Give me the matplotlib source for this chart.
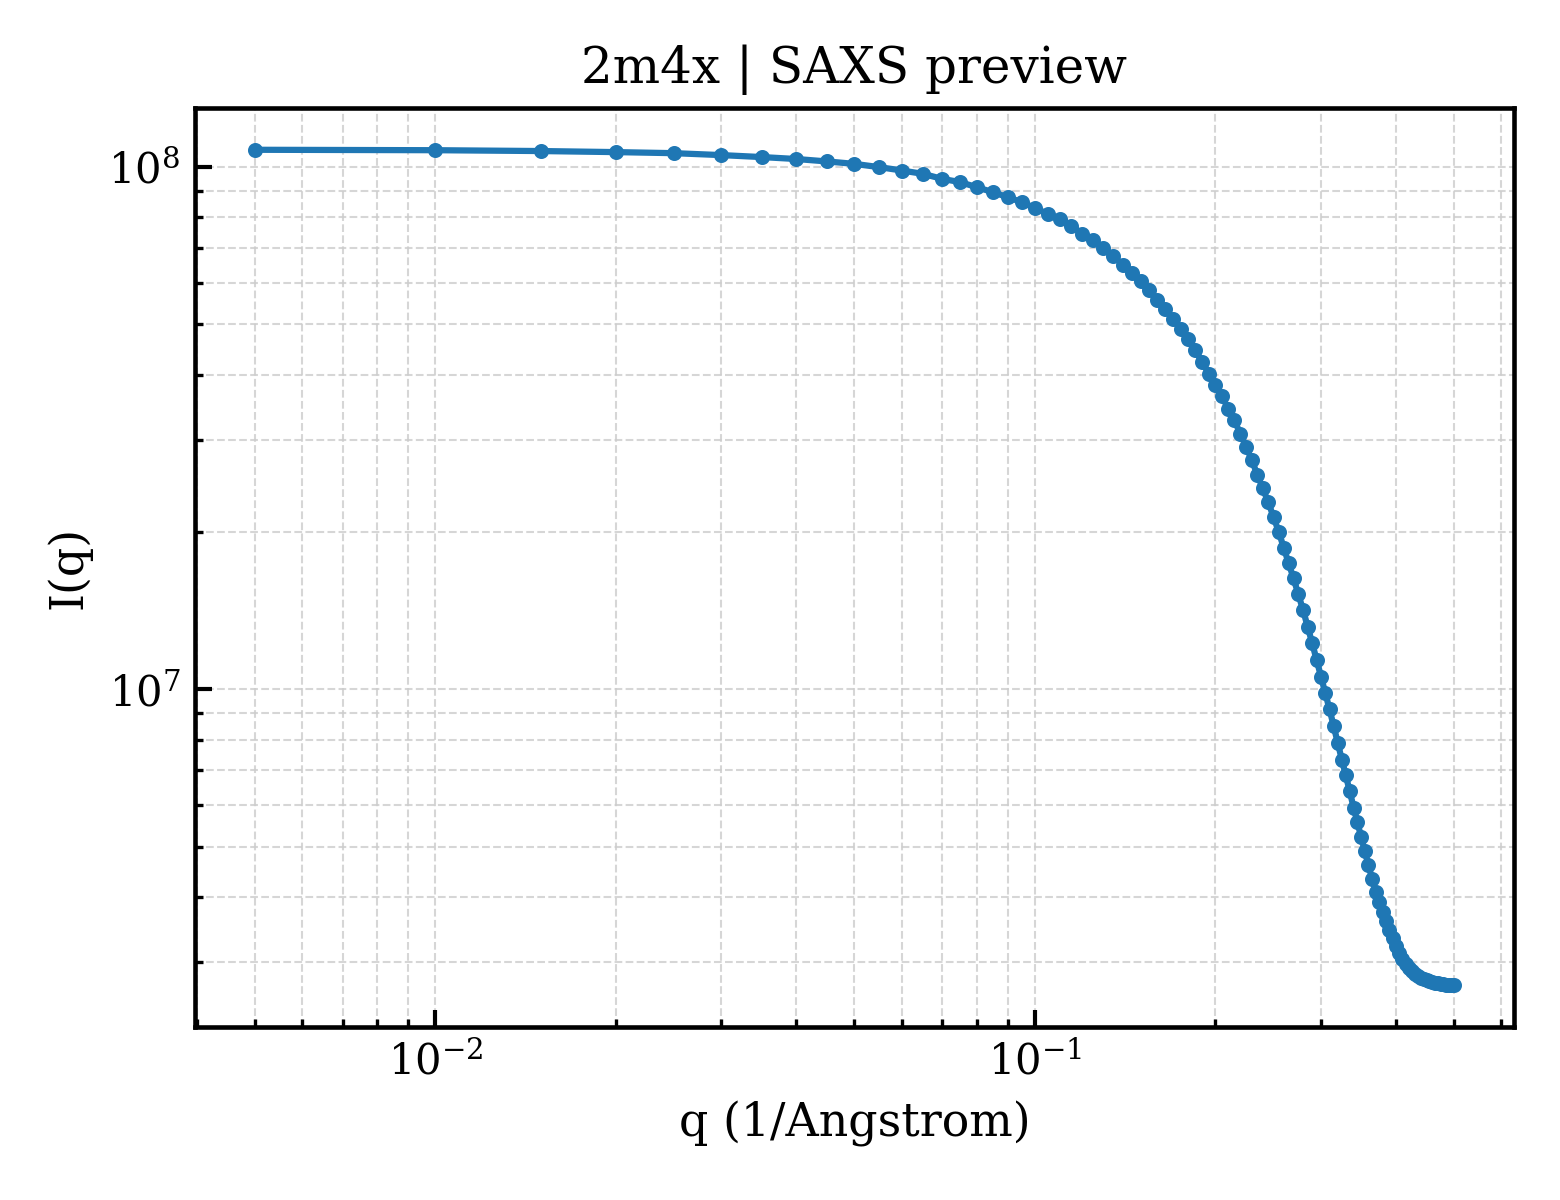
import matplotlib
matplotlib.use("Agg")
import matplotlib.pyplot as plt

plt.rcParams['font.family'] = 'DejaVu Serif'
plt.rcParams['mathtext.fontset'] = 'dejavuserif'

# q in 1/Angstrom
q = [0.005, 0.010, 0.015, 0.020, 0.025, 0.030, 0.035, 0.040, 0.045, 0.050,
     0.055, 0.060, 0.065, 0.070, 0.075, 0.080, 0.085, 0.090, 0.095, 0.100,
     0.105, 0.110, 0.115, 0.120, 0.125, 0.130, 0.135, 0.140, 0.145, 0.150,
     0.155, 0.160, 0.165, 0.170, 0.175, 0.180, 0.185, 0.190, 0.195, 0.200,
     0.205, 0.210, 0.215, 0.220, 0.225, 0.230, 0.235, 0.240, 0.245, 0.250,
     0.255, 0.260, 0.265, 0.270, 0.275, 0.280, 0.285, 0.290, 0.295, 0.300,
     0.305, 0.310, 0.315, 0.320, 0.325, 0.330, 0.335, 0.340, 0.345, 0.350,
     0.355, 0.360, 0.365, 0.370, 0.375, 0.380, 0.385, 0.390, 0.395, 0.400,
     0.405, 0.410, 0.415, 0.420, 0.425, 0.430, 0.435, 0.440, 0.445, 0.450,
     0.455, 0.460, 0.465, 0.470, 0.475, 0.480, 0.485, 0.490, 0.495, 0.500]

# I(q)
intensity = [1.078e8, 1.076e8, 1.072e8, 1.067e8, 1.062e8, 1.053e8, 1.044e8, 1.035e8, 1.024e8, 1.013e8,
             9.986e7, 9.838e7, 9.696e7, 9.484e7, 9.348e7, 9.141e7, 8.945e7, 8.750e7, 8.560e7, 8.337e7,
             8.128e7, 7.930e7, 7.701e7, 7.447e7, 7.228e7, 6.990e7, 6.745e7, 6.501e7, 6.266e7, 6.035e7,
             5.801e7, 5.568e7, 5.336e7, 5.122e7, 4.887e7, 4.677e7, 4.454e7, 4.232e7, 4.018e7, 3.819e7,
             3.639e7, 3.445e7, 3.273e7, 3.087e7, 2.911e7, 2.745e7, 2.570e7, 2.423e7, 2.278e7, 2.138e7,
             2.002e7, 1.866e7, 1.742e7, 1.630e7, 1.519e7, 1.418e7, 1.318e7, 1.225e7, 1.138e7, 1.057e7,
             9.827e6, 9.158e6, 8.492e6, 7.889e6, 7.328e6, 6.839e6, 6.375e6, 5.938e6, 5.568e6, 5.208e6,
             4.898e6, 4.602e6, 4.339e6, 4.092e6, 3.915e6, 3.747e6, 3.601e6, 3.461e6, 3.342e6, 3.226e6,
             3.128e6, 3.046e6, 2.980e6, 2.928e6, 2.883e6, 2.851e6, 2.826e6, 2.802e6, 2.783e6, 2.771e6,
             2.759e6, 2.749e6, 2.741e6, 2.735e6, 2.728e6, 2.725e6, 2.721e6, 2.716e6, 2.715e6, 2.711e6]

fig, ax = plt.subplots(figsize=(5.2, 4.0), dpi=300)
fig.subplots_adjust(left=0.125, right=0.9705, top=0.91, bottom=0.144)

ax.plot(q, intensity, marker='o', ms=2.6, lw=1.5, color='#1f77b4')
ax.set_xscale('log')
ax.set_yscale('log')

ax.set_title('2m4x | SAXS preview', fontsize=12)
ax.set_xlabel('q (1/Angstrom)', fontsize=11)
ax.set_ylabel('I(q)', fontsize=11)

ax.grid(True, which='both', linestyle='--', linewidth=0.5, color='#cccccc', alpha=0.8)
ax.tick_params(which='both', direction='in', labelsize=10)
ax.tick_params(which='major', length=4, width=1)
ax.tick_params(which='minor', length=2, width=0.8)
for s in ax.spines.values():
    s.set_linewidth(1.1)

plt.savefig('out.png', dpi=300)
